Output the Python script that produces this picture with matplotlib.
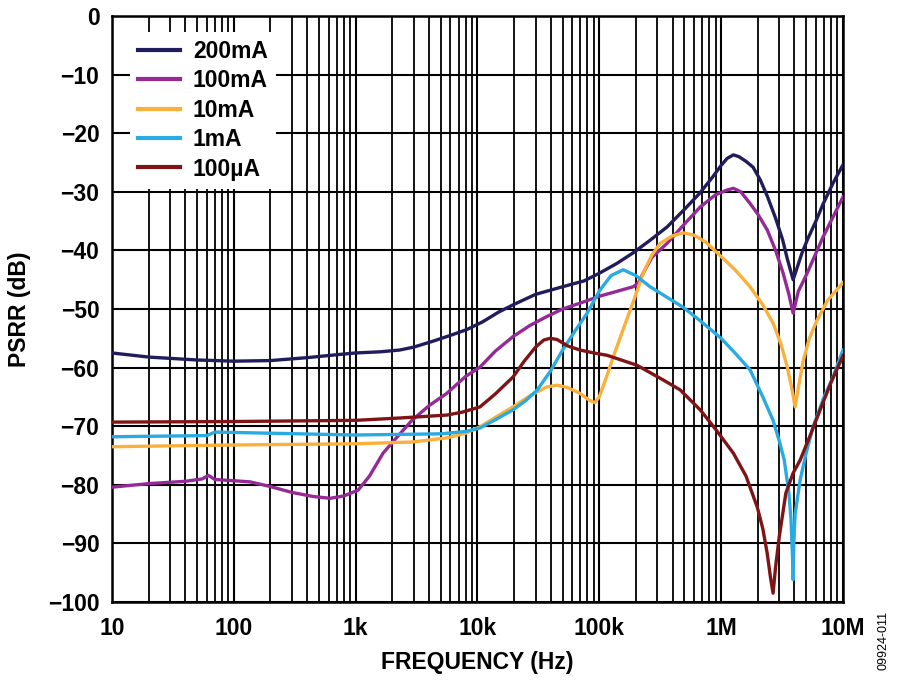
import matplotlib
matplotlib.use("Agg")
import matplotlib.pyplot as plt
from matplotlib.ticker import FixedLocator, FixedFormatter, LogLocator, NullFormatter

# ---- data ----
f_200mA = [10, 20, 50, 100, 200, 400, 700, 1e3, 1.6e3, 2.3e3, 3e3, 4.3e3, 6e3, 8.2e3, 11e3, 15e3, 20e3, 30e3, 50e3,
           75e3, 100e3, 140e3, 190e3, 260e3, 360e3, 500e3, 670e3, 850e3, 1.0e6, 1.12e6, 1.26e6, 1.4e6, 1.6e6, 1.83e6,
           2.1e6, 2.4e6, 2.8e6, 3.2e6, 3.5e6, 3.9e6, 4.2e6, 4.6e6, 5.1e6, 6e6, 6.9e6, 8.3e6, 10e6]
p_200mA = [-57.5, -58.2, -58.7, -58.9, -58.8, -58.3, -57.8, -57.5, -57.3, -57.0, -56.5, -55.5, -54.5, -53.5, -52.2, -50.5,
           -49.2, -47.5, -46.2, -45.2, -43.9, -42.2, -40.4, -38.3, -36.0, -33.0, -30.2, -27.5, -25.5, -24.3, -23.7, -24.0,
           -24.8, -25.8, -28.0, -30.8, -34.5, -38.2, -41.5, -45.0, -43.0, -40.5, -38.2, -35.0, -32.0, -28.5, -25.4]

f_100mA = [10, 20, 40, 55, 62, 70, 100, 136, 200, 300, 450, 620, 800, 1.05e3, 1.3e3, 1.68e3, 2.2e3, 2.9e3, 4e3, 5.6e3,
           8e3, 10.5e3, 14e3, 19.6e3, 27e3, 37e3, 50e3, 69.5e3, 101e3, 150e3, 190e3, 210e3, 229e3, 270e3, 360e3, 500e3,
           673e3, 900e3, 1.12e6, 1.26e6, 1.45e6, 1.73e6, 2.0e6, 2.39e6, 2.8e6, 3.23e6, 3.6e6, 3.9e6, 4.3e6, 5.08e6,
           6.87e6, 10e6]
p_100mA = [-80.4, -79.8, -79.4, -79.0, -78.4, -79.1, -79.3, -79.5, -80.3, -81.3, -82.0, -82.3, -81.9, -80.9, -78.5, -74.6,
           -71.8, -69.0, -66.5, -64.4, -61.5, -59.9, -57.2, -54.7, -52.8, -51.3, -50.0, -49.0, -47.8, -46.8, -46.2, -45.5,
           -43.9, -41.2, -38.8, -35.5, -32.6, -30.5, -29.7, -29.4, -30.0, -32.0, -33.8, -36.5, -40.0, -43.9, -47.5, -50.7,
           -47.0, -43.9, -37.7, -30.9]

f_10mA = [10, 100, 1e3, 2.9e3, 5.6e3, 8e3, 10.5e3, 14e3, 19.6e3, 27e3, 37e3, 45e3, 55e3, 69.5e3, 82e3, 92e3, 100e3,
          115e3, 130e3, 160e3, 190e3, 229e3, 270e3, 316e3, 400e3, 488e3, 600e3, 750e3, 927e3, 1.3e6, 1.73e6, 2.2e6,
          2.67e6, 3.1e6, 3.5e6, 3.8e6, 4.05e6, 4.3e6, 4.7e6, 5.3e6, 6.1e6, 7.5e6, 10e6]
p_10mA = [-73.5, -73.2, -73.0, -72.7, -72.0, -71.2, -70.1, -68.5, -66.7, -64.8, -63.3, -63.0, -63.4, -64.4, -65.5, -66.0,
          -65.0, -61.5, -58.2, -53.0, -48.8, -43.9, -40.8, -38.8, -37.5, -37.0, -37.4, -38.6, -40.4, -43.3, -46.2, -49.3,
          -52.4, -56.0, -60.0, -63.5, -66.7, -63.5, -59.0, -55.0, -52.0, -48.5, -45.5]

f_1mA = [10, 60, 70, 1e3, 5e3, 8e3, 10.5e3, 14e3, 19.6e3, 25e3, 31e3, 40e3, 50e3, 63e3, 79e3, 101e3, 125e3, 157e3,
         200e3, 261e3, 360e3, 488e3, 673e3, 1.0e6, 1.3e6, 1.73e6, 2.2e6, 2.67e6, 3.0e6, 3.3e6, 3.6e6, 3.75e6, 3.85e6,
         3.9e6, 3.95e6, 4.05e6, 4.45e6, 5.0e6, 5.69e6, 7e6, 8.3e6, 10e6]
p_1mA = [-71.8, -71.6, -71.0, -71.5, -71.3, -70.9, -70.3, -68.9, -67.2, -65.6, -63.8, -60.5, -57.0, -53.8, -50.8, -46.8,
         -44.3, -43.3, -44.3, -46.2, -48.0, -49.7, -52.0, -55.0, -57.5, -60.4, -65.0, -69.0, -72.5, -75.8, -81.4, -86.0,
         -92.0, -96.2, -90.0, -85.0, -79.2, -74.5, -70.1, -65.0, -61.6, -57.0]

f_100uA = [10, 100, 1e3, 2.3e3, 5.6e3, 7.5e3, 10.5e3, 14e3, 19.6e3, 24e3, 30e3, 35e3, 39.5e3, 45e3, 55e3, 69.5e3, 90e3,
           116e3, 204e3, 334e3, 461e3, 673e3, 900e3, 1.26e6, 1.6e6, 1.98e6, 2.2e6, 2.39e6, 2.55e6, 2.67e6, 2.8e6, 3.0e6,
           3.4e6, 3.9e6, 4.45e6, 5.4e6, 6.5e6, 8e6, 10e6]
p_100uA = [-69.3, -69.2, -69.0, -68.6, -68.1, -67.6, -66.7, -64.5, -61.6, -59.0, -56.5, -55.3, -55.0, -55.2, -56.3, -57.0,
           -57.5, -57.9, -59.6, -62.1, -63.8, -67.2, -70.5, -74.6, -78.5, -83.8, -87.5, -91.7, -96.0, -98.5, -94.0, -88.9,
           -81.4, -78.0, -75.8, -71.5, -67.2, -62.5, -58.0]

labels = ["200mA", "100mA", "10mA", "1mA", "100\u00b5A"]
colors = ["#211c5c", "#952a96", "#fbb03b", "#29abe2", "#7f1416"]

x_ticks = [10, 100, 1e3, 1e4, 1e5, 1e6, 1e7]
x_ticklabels = ["10", "100", "1k", "10k", "100k", "1M", "10M"]
y_ticks = [0, -10, -20, -30, -40, -50, -60, -70, -80, -90, -100]
y_ticklabels = ["0"] + ["\u2212%d" % (-v) for v in y_ticks[1:]]

# ---- figure ----
plt.rcParams['font.family'] = ['Liberation Sans', 'DejaVu Sans']
plt.rcParams['font.weight'] = 'bold'

fig = plt.figure(figsize=(9, 6.93), dpi=100)
ax = fig.add_axes([0.1244, 0.1313, 0.8122, 0.8456])

series = [(f_200mA, p_200mA), (f_100mA, p_100mA), (f_10mA, p_10mA), (f_1mA, p_1mA), (f_100uA, p_100uA)]
for (f, p), lab, c in zip(series, labels, colors):
    ax.plot(f, p, color=c, lw=2.4, label=lab, zorder=3, solid_joinstyle='round')

ax.set_xscale('log')
ax.set_xlim(10, 1e7)
ax.set_ylim(-100, 0)

ax.xaxis.set_major_locator(FixedLocator(x_ticks))
ax.xaxis.set_major_formatter(FixedFormatter(x_ticklabels))
ax.xaxis.set_minor_locator(LogLocator(base=10, subs=range(2, 10), numticks=20))
ax.xaxis.set_minor_formatter(NullFormatter())
ax.yaxis.set_major_locator(FixedLocator(y_ticks))
ax.yaxis.set_major_formatter(FixedFormatter(y_ticklabels))

ax.grid(True, which='major', axis='both', color='black', lw=1.5, zorder=1)
ax.grid(True, which='minor', axis='x', color='black', lw=1.3, zorder=1)
ax.set_axisbelow(True)

ax.tick_params(axis='both', which='both', length=0)
ax.tick_params(axis='x', pad=11, labelsize=16.5)
ax.tick_params(axis='y', pad=9, labelsize=16.5)
for t in ax.get_xticklabels() + ax.get_yticklabels():
    t.set_fontweight('bold')

for s in ax.spines.values():
    s.set_linewidth(1.8)
    s.set_color('black')

ax.set_xlabel("FREQUENCY (Hz)", fontsize=16.5, fontweight='bold', labelpad=8)
ax.set_ylabel("PSRR (dB)", fontsize=16.5, fontweight='bold', labelpad=12)

leg = ax.legend(loc='upper left', bbox_to_anchor=(0.0246, 0.973), borderaxespad=0,
                fontsize=16.5, frameon=True, fancybox=False, framealpha=1,
                handlelength=1.85, handletextpad=0.55, labelspacing=0.28, borderpad=0.35)
leg.get_frame().set_facecolor('white')
leg.get_frame().set_edgecolor('white')
leg.get_frame().set_linewidth(0)
for t in leg.get_texts():
    t.set_fontweight('bold')
for h in leg.get_lines():
    h.set_linewidth(3.0)

fig.text(0.982, 0.076, "09924-011", rotation=90, fontsize=9, ha='center', va='center', fontweight='normal')

fig.savefig("out.png", dpi=100)
